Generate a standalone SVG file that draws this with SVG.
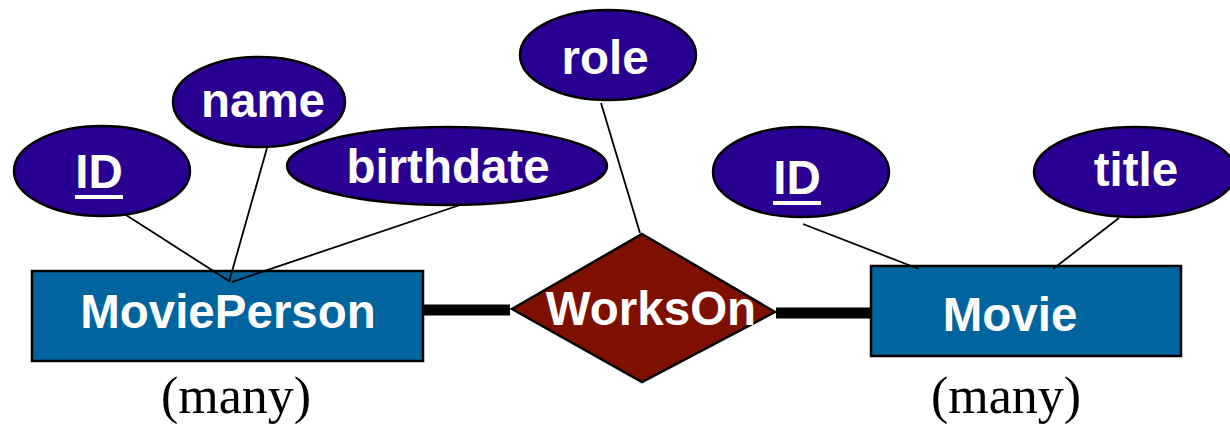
<svg xmlns="http://www.w3.org/2000/svg" width="1230" height="430" viewBox="0 0 1230 430">
  <style>
    .attr { fill: #290091; stroke: #000; stroke-width: 2.5; }
    .entity { fill: #00649e; stroke: #000; stroke-width: 2.5; }
    .rel { fill: #7f1000; stroke: #000; stroke-width: 2.5; }
    .lbl { font-family: "Liberation Sans", Arial, sans-serif; font-weight: bold; font-size: 47.5px; fill: #fff; text-anchor: middle; }
    .uline { fill: #fff; }
    .card { font-family: "Liberation Serif", "Times New Roman", serif; font-size: 52px; fill: #000; text-anchor: middle; }
    .thin { stroke: #000; stroke-width: 1.8; fill: none; }
    .thick { stroke: #000; stroke-width: 11; fill: none; }
  </style>
  <rect width="1230" height="430" fill="#fff"/>

  <!-- MoviePerson entity and attributes -->
  <g id="attr-person-id">
    <ellipse class="attr" cx="102" cy="171" rx="88" ry="45"/>
    <text class="lbl" x="99" y="188">ID</text>
    <rect class="uline" x="75" y="195" width="48" height="4"/>
  </g>
  <g id="attr-name">
    <ellipse class="attr" cx="259" cy="102" rx="86" ry="45"/>
    <text class="lbl" x="263" y="117">name</text>
  </g>
  <g id="attr-birthdate">
    <ellipse class="attr" cx="447" cy="166" rx="160" ry="39"/>
    <text class="lbl" x="448" y="183">birthdate</text>
  </g>
  <g id="entity-movieperson">
    <rect class="entity" x="32" y="271" width="391" height="90"/>
    <text class="lbl" x="228" y="328">MoviePerson</text>
  </g>

  <!-- relationship -->
  <g id="attr-role">
    <ellipse class="attr" cx="608" cy="55" rx="88" ry="45"/>
    <text class="lbl" x="605" y="74">role</text>
  </g>
  <g id="rel-workson">
    <polygon class="rel" points="642,234 775,312 642,382 512,309"/>
    <text class="lbl" x="651" y="325">WorksOn</text>
  </g>

  <!-- Movie entity and attributes -->
  <g id="attr-movie-id">
    <ellipse class="attr" cx="801" cy="172" rx="88" ry="45"/>
    <text class="lbl" x="797" y="194">ID</text>
    <rect class="uline" x="773" y="201" width="48" height="4"/>
  </g>
  <g id="attr-title">
    <ellipse class="attr" cx="1135" cy="172" rx="101" ry="45"/>
    <text class="lbl" x="1136" y="186">title</text>
  </g>
  <g id="entity-movie">
    <rect class="entity" x="871" y="266" width="310" height="90"/>
    <text class="lbl" x="1010" y="331">Movie</text>
  </g>

  <!-- connectors, drawn over the boxes so their ends show inside them -->
  <g id="connectors">
    <line class="thin" x1="126" y1="215" x2="229" y2="281"/>
    <line class="thin" x1="267" y1="148" x2="229" y2="282"/>
    <line class="thin" x1="460" y1="205" x2="232" y2="282"/>
    <line class="thin" x1="601" y1="103" x2="640" y2="233"/>
    <line class="thin" x1="803" y1="224" x2="919" y2="269"/>
    <line class="thin" x1="1119" y1="218" x2="1053" y2="269"/>
    <line class="thick" x1="424" y1="310" x2="510" y2="310"/>
    <line class="thick" x1="776" y1="313" x2="870" y2="313"/>
  </g>

  <!-- cardinality labels -->
  <g id="cardinality">
    <text class="card" x="236" y="413">(many)</text>
    <text class="card" x="1006" y="413">(many)</text>
  </g>
</svg>
